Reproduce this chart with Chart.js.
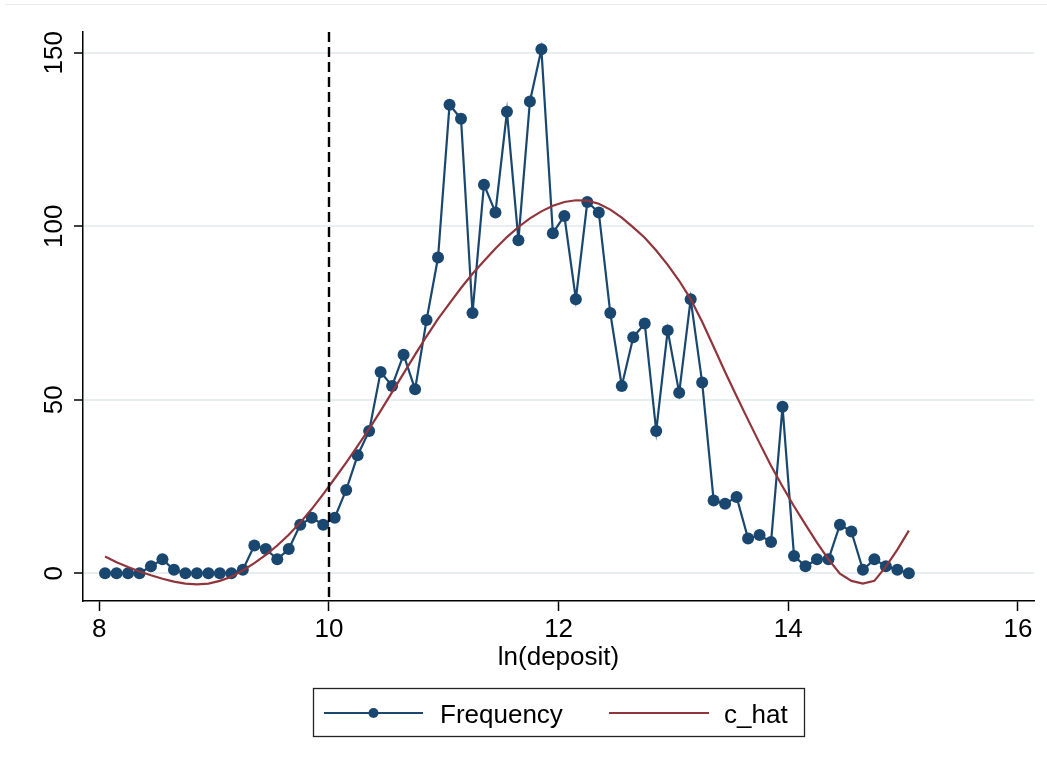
<!DOCTYPE html>
<html>
<head>
<meta charset="utf-8">
<script src="https://cdn.jsdelivr.net/npm/chart.js@4.4.1/dist/chart.umd.min.js"></script>
<style>
  html, body { margin: 0; padding: 0; background: #ffffff; }
  #wrap { position: relative; width: 1047px; height: 767px; }
  canvas { display: block; }
</style>
</head>
<body>
<div id="wrap"><canvas id="c" width="1047" height="767"></canvas></div>
<script>
// ---- data ----
const bins = [
  8.05, 8.15, 8.25, 8.35, 8.45, 8.55, 8.65, 8.75, 8.85, 8.95,
  9.05, 9.15, 9.25, 9.35, 9.45, 9.55, 9.65, 9.75, 9.85, 9.95,
  10.05, 10.15, 10.25, 10.35, 10.45, 10.55, 10.65, 10.75, 10.85, 10.95,
  11.05, 11.15, 11.25, 11.35, 11.45, 11.55, 11.65, 11.75, 11.85, 11.95,
  12.05, 12.15, 12.25, 12.35, 12.45, 12.55, 12.65, 12.75, 12.85, 12.95,
  13.05, 13.15, 13.25, 13.35, 13.45, 13.55, 13.65, 13.75, 13.85, 13.95,
  14.05, 14.15, 14.25, 14.35, 14.45, 14.55, 14.65, 14.75, 14.85, 14.95,
  15.05
];
const frequency = [
  0, 0, 0, 0, 2, 4, 1, 0, 0, 0,
  0, 0, 1, 8, 7, 4, 7, 14, 16, 14,
  16, 24, 34, 41, 58, 54, 63, 53, 73, 91,
  135, 131, 75, 112, 104, 133, 96, 136, 151, 98,
  103, 79, 107, 104, 75, 54, 68, 72, 41, 70,
  52, 79, 55, 21, 20, 22, 10, 11, 9, 48,
  5, 2, 4, 4, 14, 12, 1, 4, 2, 1,
  0
];
const cHat = [
  4.8, 3.2, 1.8, 0.5, -0.6, -1.6, -2.4, -3.0, -3.2, -3.0,
  -2.2, -1.0, 0.8, 2.9, 5.3, 8.0, 11.1, 14.6, 18.5, 22.8,
  27.3, 31.9, 36.7, 41.6, 46.8, 52.2, 57.6, 63.0, 68.3, 73.3,
  77.8, 82.2, 86.3, 90.0, 93.6, 96.9, 99.8, 102.3, 104.3, 105.9,
  107.0, 107.5, 107.4, 106.5, 104.8, 102.5, 99.7, 96.7, 93.0, 88.9,
  84.3, 79.0, 72.5, 65.3, 58.0, 51.0, 44.2, 37.5, 31.0, 25.0,
  19.3, 14.0, 8.8, 4.0, -0.1, -2.2, -3.0, -2.2, 1.9, 6.8,
  12.3
];
const xTicks = [8, 10, 12, 14, 16];
const yTicks = [0, 50, 100, 150];
const cutoff = 10;
const seriesNames = ['Frequency', 'c_hat'];
const xTitle = 'ln(deposit)';

// ---- styles ----
const NAVY = '#1a476f';
const MAROON = '#90353b';
const FONT = '"Liberation Sans", Arial, Helvetica, sans-serif';
const FSIZE = 26;

const freqPoints = bins.map((x, i) => ({ x: x, y: frequency[i] }));
const hatPoints = bins.map((x, i) => ({ x: x, y: cHat[i] }));

const decor = {
  id: 'decor',
  beforeDraw(chart) {
    const ctx = chart.ctx;
    ctx.save();
    ctx.fillStyle = '#ffffff';
    ctx.fillRect(0, 0, chart.width, chart.height);
    ctx.strokeStyle = '#ebebeb';
    ctx.lineWidth = 1;
    ctx.beginPath();
    ctx.moveTo(5, 4.5);
    ctx.lineTo(chart.width, 4.5);
    ctx.stroke();
    ctx.restore();
  },
  afterDatasetsDraw(chart) {
    const ctx = chart.ctx;
    const xs = chart.scales.x;
    const area = chart.chartArea;
    const px = Math.round(xs.getPixelForValue(cutoff));
    ctx.save();
    ctx.strokeStyle = '#000000';
    ctx.lineWidth = 2.4;
    ctx.setLineDash([10, 5]);
    ctx.beginPath();
    ctx.moveTo(px, area.top);
    ctx.lineTo(px, area.bottom);
    ctx.stroke();
    ctx.restore();
  },
  afterDraw(chart) {
    const ctx = chart.ctx;
    const ys = chart.scales.y;
    ctx.save();
    // y tick labels, rotated like the reference
    ctx.fillStyle = '#000000';
    ctx.font = FSIZE + 'px ' + FONT;
    ctx.textAlign = 'center';
    ctx.textBaseline = 'alphabetic';
    yTicks.forEach(v => {
      const py = ys.getPixelForValue(v);
      ctx.save();
      ctx.translate(62, py);
      ctx.rotate(-Math.PI / 2);
      ctx.fillText(String(v), 0, 0);
      ctx.restore();
    });
    // legend box
    ctx.strokeStyle = '#222222';
    ctx.lineWidth = 1.3;
    ctx.strokeRect(313.5, 688.5, 491, 48);
    // Frequency key
    ctx.strokeStyle = NAVY;
    ctx.lineWidth = 2.2;
    ctx.beginPath();
    ctx.moveTo(324, 713);
    ctx.lineTo(423, 713);
    ctx.stroke();
    ctx.fillStyle = NAVY;
    ctx.beginPath();
    ctx.arc(373.5, 713, 5, 0, Math.PI * 2);
    ctx.fill();
    // c_hat key
    ctx.strokeStyle = MAROON;
    ctx.beginPath();
    ctx.moveTo(609, 713);
    ctx.lineTo(709, 713);
    ctx.stroke();
    ctx.fillStyle = '#000000';
    ctx.textAlign = 'left';
    ctx.fillText(seriesNames[0], 440, 723);
    ctx.fillText(seriesNames[1], 724, 723);
    ctx.restore();
  }
};

new Chart(document.getElementById('c'), {
  type: 'line',
  data: {
    datasets: [
      {
        label: seriesNames[0],
        data: freqPoints,
        borderColor: NAVY,
        backgroundColor: NAVY,
        borderWidth: 2.2,
        pointRadius: 6,
        pointBorderWidth: 0,
        pointBackgroundColor: NAVY,
        tension: 0,
        order: 1
      },
      {
        label: seriesNames[1],
        data: hatPoints,
        borderColor: MAROON,
        backgroundColor: MAROON,
        borderWidth: 2.2,
        pointRadius: 0,
        tension: 0,
        order: 0
      }
    ]
  },
  options: {
    responsive: false,
    animation: false,
    devicePixelRatio: 1,
    layout: { padding: { left: 0, top: 32, right: 13, bottom: 86 } },
    plugins: { legend: { display: false }, tooltip: { enabled: false } },
    scales: {
      x: {
        type: 'linear',
        min: 7.858,
        max: 16.14,
        afterBuildTicks: s => { s.ticks = xTicks.map(v => ({ value: v })); },
        afterFit: s => { s.height = 80; },
        grid: { drawOnChartArea: false, drawTicks: true, tickLength: 10, tickColor: '#000000', tickWidth: 1.5 },
        border: { display: true, color: '#000000', width: 1.5 },
        ticks: { color: '#000000', font: { family: FONT, size: FSIZE }, padding: 3, maxRotation: 0, minRotation: 0 },
        title: { display: true, text: xTitle, color: '#000000', font: { family: FONT, size: FSIZE }, padding: { top: 0, bottom: 8 } }
      },
      y: {
        type: 'linear',
        min: -8,
        max: 156,
        afterBuildTicks: s => { s.ticks = yTicks.map(v => ({ value: v })); },
        afterFit: s => { s.width = 83; },
        grid: { drawOnChartArea: true, drawTicks: true, tickLength: 9, color: '#e8eff1', lineWidth: 2, tickColor: '#000000', tickWidth: 1.5 },
        border: { display: true, color: '#000000', width: 1.5 },
        ticks: { display: false }
      }
    }
  },
  plugins: [decor]
});
</script>
</body>
</html>
